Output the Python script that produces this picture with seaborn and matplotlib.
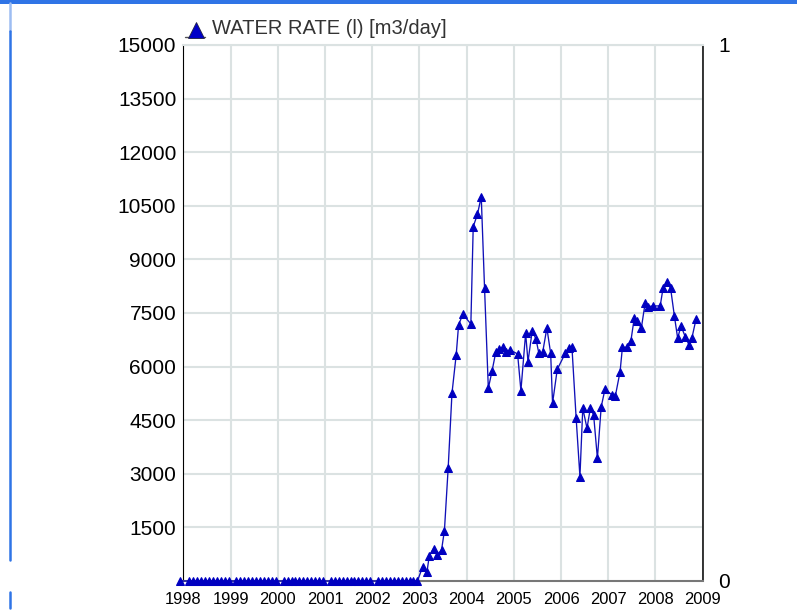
import matplotlib
matplotlib.use("Agg")
import matplotlib.pyplot as plt
import seaborn as sns
import pandas as pd
from matplotlib.lines import Line2D
from matplotlib.patches import Rectangle

# ---- data ----
series_name = "WATER RATE (l) [m3/day]"
# shut-in period: monthly samples with zero rate (Dec 1997, then Feb..Dec of 1998-2002)
zero_years = [1997.92] + [y + (m - 0.5) / 12 for y in range(1998, 2003) for m in range(2, 13)]
zero_rates = [0.0] * len(zero_years)

rate_years = [2003.07, 2003.16, 2003.21, 2003.30, 2003.38, 2003.47, 2003.53, 2003.61, 2003.69, 2003.78, 2003.83, 2003.92,
              2004.09, 2004.14, 2004.23, 2004.31, 2004.38, 2004.46, 2004.54, 2004.62, 2004.69, 2004.77, 2004.84, 2004.92,
              2005.08, 2005.15, 2005.25, 2005.30, 2005.39, 2005.47, 2005.53, 2005.61, 2005.70, 2005.78, 2005.82, 2005.92,
              2006.09, 2006.16, 2006.23, 2006.32, 2006.40, 2006.46, 2006.55, 2006.62, 2006.69, 2006.77, 2006.85, 2006.93,
              2007.08, 2007.15, 2007.25, 2007.30, 2007.39, 2007.48, 2007.55, 2007.61, 2007.70, 2007.78, 2007.85, 2007.94,
              2008.10, 2008.16, 2008.24, 2008.32, 2008.40, 2008.47, 2008.54, 2008.63, 2008.71, 2008.77, 2008.86]
rate_values = [400, 252, 708, 905, 719, 876, 1408, 3172, 5254, 6334, 7166, 7465,
               7194, 9917, 10264, 10757, 8193, 5394, 5886, 6418, 6494, 6541, 6418, 6466,
               6354, 5327, 6933, 6138, 7006, 6765, 6373, 6395, 7080, 6373, 4974, 5925,
               6373, 6513, 6560, 4554, 2919, 4834, 4274, 4834, 4646, 3434, 4870, 5366,
               5206, 5178, 5858, 6541, 6541, 6727, 7353, 7278, 7073, 7773, 7678, 7698,
               7698, 8193, 8378, 8193, 7418, 6793, 7138, 6838, 6606, 6793, 7334]

year_ticks = list(range(1998, 2010))
rate_ticks = [1500, 3000, 4500, 6000, 7500, 9000, 10500, 12000, 13500, 15000]
right_ticks = [0, 1]

df = pd.DataFrame({"year": zero_years + rate_years,
                   "rate": zero_rates + rate_values})

# ---- figure ----
sns.set_theme(style="white")
plt.rcParams["font.family"] = ["Liberation Sans", "DejaVu Sans"]

W, H = 797, 611
fig = plt.figure(figsize=(W / 100, H / 100), dpi=100)
ax = fig.add_axes([183.3 / W, 30 / H, 519.4 / W, 536 / H])

line_col = "#1010b8"
mark_col = "#0000c0"
sns.lineplot(data=df, x="year", y="rate", ax=ax, sort=False, estimator=None,
             color=line_col, linewidth=0.95, marker="^", markersize=5.5,
             markerfacecolor=mark_col, markeredgecolor=mark_col, clip_on=False, zorder=5)

ax.set_xlim(1998, 2009)
ax.set_ylim(0, 15000)
ax.set_xticks(year_ticks)
ax.set_xticklabels([str(y) for y in year_ticks])
ax.set_yticks(rate_ticks)
ax.set_yticklabels([str(v) for v in rate_ticks])
ax.set_xlabel("")
ax.set_ylabel("")
ax.grid(True, color="#dbe2e2", linewidth=1.5)
ax.set_axisbelow(True)
ax.tick_params(axis="both", length=0, colors="#000000")
ax.tick_params(axis="x", labelsize=11.9, pad=8)
ax.tick_params(axis="y", labelsize=15, pad=5)

for side in ["left", "right"]:
    ax.spines[side].set_color("#000000")
ax.spines["left"].set_linewidth(0.8)
ax.spines["right"].set_linewidth(1.1)
ax.spines["bottom"].set_color("#777777")
ax.spines["bottom"].set_linewidth(1.5)
ax.spines["top"].set_color("#dbe2e2")
ax.spines["top"].set_linewidth(1.5)

ax2 = ax.twinx()
ax2.set_ylim(0, 1)
ax2.set_yticks(right_ticks)
ax2.set_yticklabels([str(v) for v in right_ticks])
ax2.tick_params(axis="y", length=0, labelsize=15, pad=11, colors="#000000")
for s in ax2.spines.values():
    s.set_visible(False)
ax2.grid(False)

# ---- legend (above the axes) ----
fig.add_artist(Line2D([185 / W, 205 / W], [1 - 37 / H, 1 - 37 / H], color="#555555", lw=1.0))
fig.add_artist(Line2D([196 / W], [1 - 29.5 / H], marker="^", markersize=11, color="#0000c8",
                      markeredgecolor="#222244", markeredgewidth=0.6, linestyle="none"))
fig.text(212 / W, 1 - 28 / H, series_name, fontsize=14.5, color="#333333", va="center", ha="left")

# ---- window chrome (blue borders of the screenshot) ----
fig.add_artist(Rectangle((0, 1 - 3.5 / H), 1, 3.5 / H, color="#2f74e6", transform=fig.transFigure, lw=0))
fig.add_artist(Line2D([10.3 / W, 10.3 / W], [1 - 3 / H, 1 - 31 / H], color="#9dbdf2", lw=1.8))
fig.add_artist(Line2D([10.3 / W, 10.3 / W], [1 - 31 / H, 1 - 560 / H], color="#2f74e6", lw=1.8))
fig.add_artist(Line2D([10.3 / W, 10.3 / W], [1 - 592 / H, 1 - 608 / H], color="#2f74e6", lw=1.8))

fig.savefig("out.png", dpi=100)
